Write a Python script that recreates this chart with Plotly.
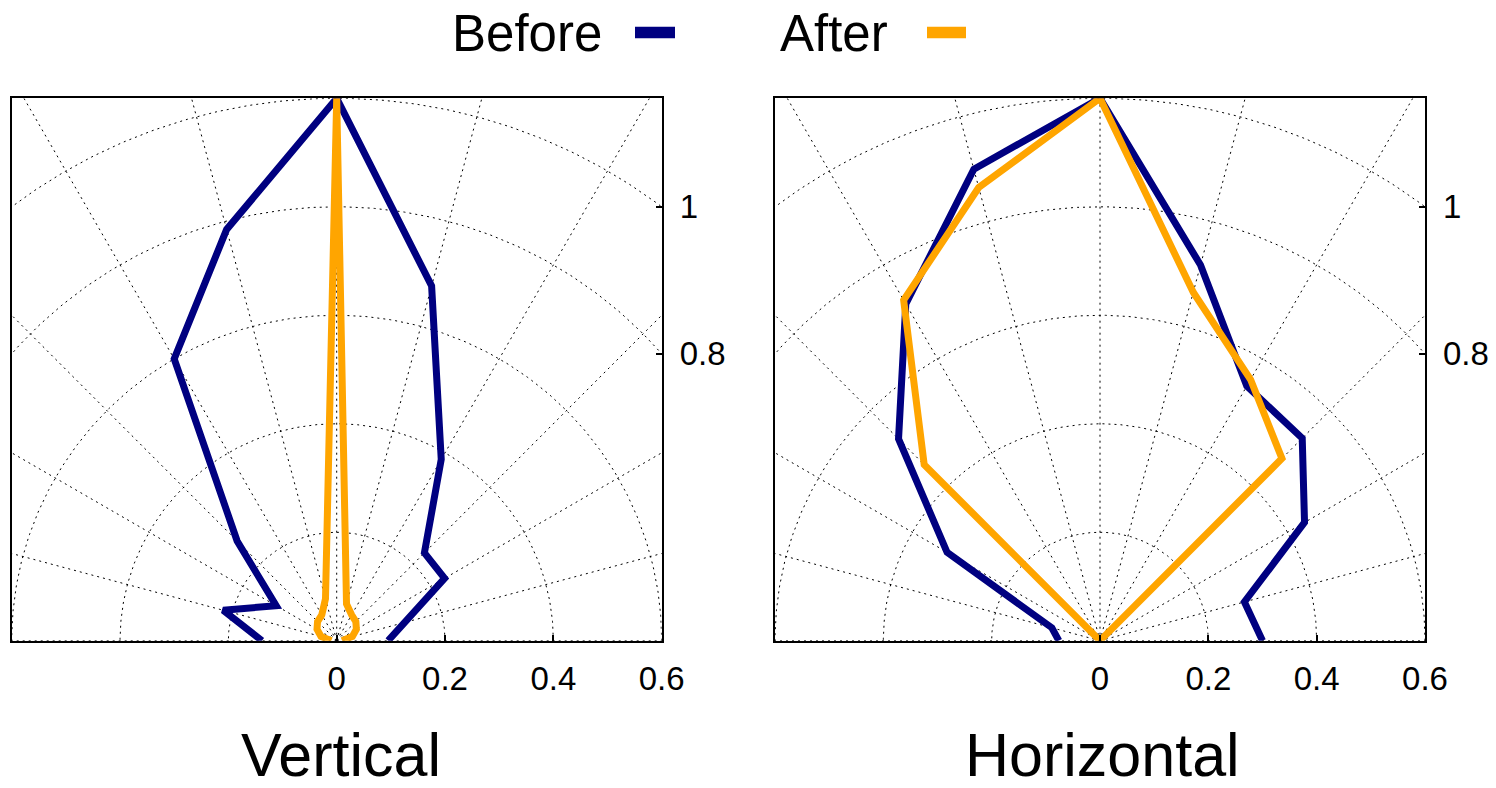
import numpy as np
import plotly.graph_objects as go

# ---------------- data ----------------
angles_deg = [-90, -75, -60, -45, -30, -15, 0, 15, 30, 45, 60, 75, 90]
vert_before = [0.138, 0.217, 0.129, 0.26, 0.60, 0.785, 1.0, 0.677, 0.386, 0.229, 0.23, 0.13, 0.095]
vert_after = [0.01, 0.03, 0.042, 0.05, 0.055, 0.08, 1.0, 0.07, 0.055, 0.05, 0.042, 0.03, 0.01]
horiz_before = [0.076, 0.092, 0.326, 0.526, 0.717, 0.90, 1.0, 0.717, 0.542, 0.528, 0.436, 0.276, 0.30]
horiz_after = [0.0, 0.0, 0.0, 0.459, 0.725, 0.865, 1.0, 0.665, 0.556, 0.475, 0.0, 0.0, 0.0]

series_names = ["Before", "After"]
series_colors = ["#000080", "#FFA500"]
panel_titles = ["Vertical", "Horizontal"]
x_tick_vals = [0, 0.2, 0.4, 0.6]
r_label_vals = [0.8, 1.0]
grid_radii = [0.2, 0.4, 0.6, 0.8, 1.0, 1.2]
grid_spoke_deg = list(range(0, 181, 15))

X_HALF = 0.6
W, H = 1496, 788
FONT = "Liberation Sans, Arial, Helvetica, sans-serif"


def px_x(p):
    return p / W


def px_y(p):
    return 1 - p / H


def to_xy(r, ang):
    t = np.radians(np.asarray(ang, dtype=float))
    r = np.asarray(r, dtype=float)
    return r * np.sin(t), r * np.cos(t)


fig = go.Figure()

panels = [
    dict(xa="x", ya="y", ya_lab="y3", data=[vert_before, vert_after]),
    dict(xa="x2", ya="y2", ya_lab="y4", data=[horiz_before, horiz_after]),
]

grid_line = dict(color="#000000", width=1, dash="2px,4px")

for p in panels:
    # circles
    th = np.linspace(0, np.pi, 361)
    for r in grid_radii:
        fig.add_trace(go.Scatter(x=r * np.cos(th), y=r * np.sin(th), mode="lines",
                                 line=grid_line, xaxis=p["xa"], yaxis=p["ya"],
                                 hoverinfo="skip", showlegend=False))
    # spokes
    for a in grid_spoke_deg:
        t = np.radians(a)
        fig.add_trace(go.Scatter(x=[0, 2 * np.cos(t)], y=[0, 2 * np.sin(t)], mode="lines",
                                 line=grid_line, xaxis=p["xa"], yaxis=p["ya"],
                                 hoverinfo="skip", showlegend=False))
    for name, color, r in zip(series_names, series_colors, p["data"]):
        x, y = to_xy(r, angles_deg)
        fig.add_trace(go.Scatter(x=x, y=y, mode="lines", name=name,
                                 line=dict(color=color, width=7),
                                 xaxis=p["xa"], yaxis=p["ya"], showlegend=False,
                                 hoverinfo="skip"))
    # invisible trace so the right-side radius label axis is drawn
    fig.add_trace(go.Scatter(x=[0], y=[0], mode="markers", marker=dict(opacity=0),
                             xaxis=p["xa"], yaxis=p["ya_lab"], showlegend=False,
                             hoverinfo="skip"))

# right-side radius labels: where each circle meets the right border
r_tick_pos = [float(np.sqrt(r * r - X_HALF * X_HALF)) for r in r_label_vals]
r_tick_txt = ["%g" % r for r in r_label_vals]

x_domains = [[px_x(11.7), px_x(661.7)], [px_x(775), px_x(1425)]]
y_domain = [px_y(640.7), px_y(98.3)]

tick_font = dict(family=FONT, size=33, color="black")
common_x = dict(range=[-X_HALF, X_HALF], tickvals=x_tick_vals, ticktext=["%g" % v for v in x_tick_vals],
                ticks="inside", ticklen=6, tickwidth=1.5, tickcolor="black",
                showline=True, linewidth=2, linecolor="black", mirror=True,
                showgrid=False, zeroline=False, tickfont=tick_font, fixedrange=True,
                automargin=False, ticklabelstandoff=8)
common_y = dict(range=[0, 1], domain=y_domain, showline=True, linewidth=2, linecolor="black",
                mirror=True, showgrid=False, zeroline=False, showticklabels=False, ticks="",
                fixedrange=True, automargin=False)
label_y = dict(range=[0, 1], side="right", tickvals=r_tick_pos, ticktext=r_tick_txt,
               ticks="inside", ticklen=6, tickwidth=1.5, tickcolor="black",
               showgrid=False, zeroline=False, showline=False, tickfont=tick_font,
               ticklabelstandoff=17, fixedrange=True, automargin=False)

fig.update_layout(
    width=W, height=H,
    margin=dict(l=0, r=0, t=0, b=0, autoexpand=False),
    paper_bgcolor="white", plot_bgcolor="white",
    hovermode=False,
    xaxis=dict(domain=x_domains[0], anchor="y", **common_x),
    yaxis=dict(anchor="x", **common_y),
    xaxis2=dict(domain=x_domains[1], anchor="y2", **common_x),
    yaxis2=dict(anchor="x2", **common_y),
    yaxis3=dict(overlaying="y", anchor="x", **label_y),
    yaxis4=dict(overlaying="y2", anchor="x2", **label_y),
)

# legend (text followed by line sample)
legend_text_right = [604, 890]
legend_sample_x = [(635, 675), (927, 966)]
for name, color, tx, (sx0, sx1) in zip(series_names, series_colors, legend_text_right, legend_sample_x):
    fig.add_annotation(x=px_x(tx), y=px_y(33), xref="paper", yref="paper", text=name,
                       showarrow=False, xanchor="right", yanchor="middle",
                       font=dict(family=FONT, size=51, color="black"))
    fig.add_shape(type="line", xref="paper", yref="paper", x0=px_x(sx0), x1=px_x(sx1),
                  y0=px_y(32.5), y1=px_y(32.5), line=dict(color=color, width=11.5))

# panel titles
for title, cx in zip(panel_titles, [341, 1102]):
    fig.add_annotation(x=px_x(cx), y=px_y(755), xref="paper", yref="paper", text=title,
                       showarrow=False, xanchor="center", yanchor="middle",
                       font=dict(family=FONT, size=61, color="black"))

fig.write_html("out.html")
